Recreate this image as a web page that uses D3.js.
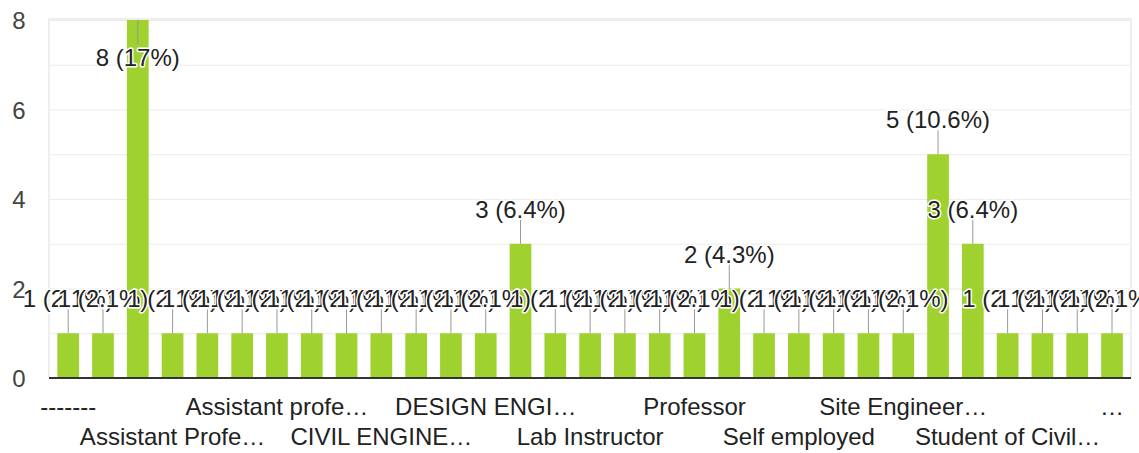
<!DOCTYPE html>
<html>
<head>
<meta charset="utf-8">
<script src="https://cdn.jsdelivr.net/npm/d3@7"></script>
<style>
  body { margin: 0; background: #fff; }
  text { font-family: Arial, "Liberation Sans", sans-serif; }
</style>
</head>
<body>
<div id="chart"></div>
<script>
// Responses per answer (31 answers, 47 responses in total)
const counts = [1, 1, 8, 1, 1, 1, 1, 1, 1, 1, 1, 1, 1, 3, 1, 1, 1, 1, 1, 2, 1, 1, 1, 1, 1, 5, 3, 1, 1, 1, 1];

// Only every third answer gets a label on the x axis
const labelEvery = 3;
const shownLabels = [
  "-------", "Assistant Profe…", "Assistant profe…", "CIVIL ENGINE…", "DESIGN ENGI…",
  "Lab Instructor", "Professor", "Self employed", "Site Engineer…", "Student of Civil…", "…"
];

const yTicks = [0, 2, 4, 6, 8];
const gridValues = [0, 1, 2, 3, 4, 5, 6, 7, 8];

// Chart size
const totalWidth = 1139;
const totalHeight = 453;
const plot = { left: 49, right: 1131, top: 20, bottom: 378 };
const barColor = "#9fd22f";

const total = d3.sum(counts);
const pct = v => {
  const p = Math.round(v / total * 1000) / 10;
  return `${v} (${p}%)`;
};

const svg = d3.select("#chart")
  .append("svg")
  .attr("width", totalWidth)
  .attr("height", totalHeight);

// Scales
const x = d3.scaleBand()
  .domain(d3.range(counts.length))
  .range([50.8, 1129.4])
  .paddingInner(0.376)
  .paddingOuter(0.188);

const y = d3.scaleLinear()
  .domain([0, 8])
  .range([plot.bottom, plot.top]);

// Grid lines
svg.append("g")
  .selectAll("line")
  .data(gridValues)
  .join("line")
  .attr("x1", plot.left)
  .attr("x2", plot.right)
  .attr("y1", d => y(d) + 0.5)
  .attr("y2", d => y(d) + 0.5)
  .attr("stroke", "#ebebeb")
  .attr("stroke-width", 1);

// Light frame round the plot
svg.append("path")
  .attr("d", `M${plot.left},${plot.bottom} V${plot.top - 1} H${plot.right} V${plot.bottom}`)
  .attr("fill", "none")
  .attr("stroke", "#eeeeee")
  .attr("stroke-width", 2);

// Y axis
const yAxis = svg.append("g")
  .attr("transform", `translate(${plot.left},0)`)
  .call(d3.axisLeft(y).tickValues(yTicks).tickSize(0).tickPadding(23.5));

yAxis.select(".domain").remove();
yAxis.selectAll("text")
  .attr("font-size", 24)
  .attr("font-family", "Arial, 'Liberation Sans', sans-serif")
  .attr("fill", "#444")
  .attr("dy", "0.36em");

// Bars
svg.append("g")
  .selectAll("rect")
  .data(counts)
  .join("rect")
  .attr("x", (d, i) => x(i))
  .attr("y", d => y(d))
  .attr("width", x.bandwidth())
  .attr("height", d => y(0) - y(d))
  .attr("fill", barColor);

// Baseline
svg.append("line")
  .attr("x1", plot.left)
  .attr("x2", plot.right)
  .attr("y1", plot.bottom)
  .attr("y2", plot.bottom)
  .attr("stroke", "#333")
  .attr("stroke-width", 2);

// X axis labels, in two alternating rows
const xAxis = svg.append("g")
  .attr("transform", `translate(0,${plot.bottom})`)
  .call(d3.axisBottom(x)
    .tickValues(d3.range(0, counts.length, labelEvery))
    .tickSize(0)
    .tickFormat((d, k) => shownLabels[k]));

xAxis.select(".domain").remove();
xAxis.selectAll("text")
  .attr("font-size", 24)
  .attr("font-family", "Arial, 'Liberation Sans', sans-serif")
  .attr("fill", "#222")
  .attr("dy", 0)
  .attr("y", (d, k) => k % 2 === 0 ? 37 : 67);

// Value labels with stems; labels are drawn in order, so later ones cover earlier ones
const stem = 24;
const annotations = svg.append("g");

counts.forEach((v, i) => {
  const cx = x(i) + x.bandwidth() / 2;
  const top = y(v);
  const above = top - stem - 27 >= 0;
  const g = annotations.append("g");

  g.append("line")
    .attr("x1", cx)
    .attr("x2", cx)
    .attr("y1", top)
    .attr("y2", above ? top - stem : top + stem)
    .attr("stroke", "#999")
    .attr("stroke-width", 1);

  g.append("text")
    .attr("x", cx)
    .attr("y", above ? top - stem - 2 : top + stem + 22)
    .attr("text-anchor", "middle")
    .attr("font-size", 24)
    .attr("fill", "#222")
    .attr("stroke", "#fff")
    .attr("stroke-width", 3)
    .attr("paint-order", "stroke")
    .attr("stroke-linejoin", "round")
    .text(pct(v));
});
</script>
</body>
</html>
